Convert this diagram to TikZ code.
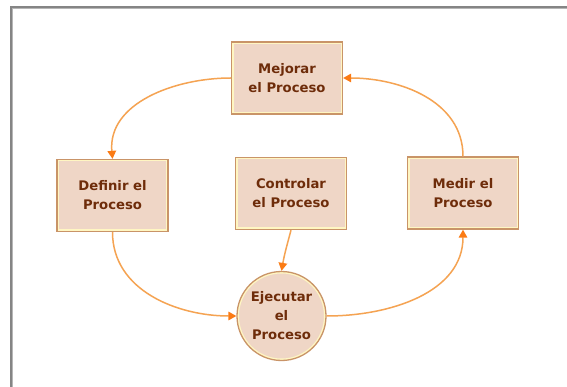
\documentclass[tikz,border=0pt]{standalone}
\usepackage{fontspec}
\setmainfont{DejaVu Sans}
\usetikzlibrary{arrows.meta}
\definecolor{boxfill}{HTML}{EFD6C6}
\definecolor{boxline}{HTML}{C99468}
\definecolor{cream}{HTML}{FFF6C2}
\definecolor{textbrown}{HTML}{6E2C0A}
\definecolor{flow}{HTML}{F5A352}
\definecolor{tip}{HTML}{FB7B14}
\definecolor{framegray}{HTML}{858585}
\tikzset{
  stage/.style={rectangle, fill=boxfill, draw=boxline, line width=1.3pt,
    minimum width=111pt, minimum height=72pt, inner sep=0pt,
    align=center, text=textbrown,
    font=\fontsize{13.2}{19}\selectfont\bfseries,
    path picture={\draw[cream, line width=4pt]
      (path picture bounding box.south west) rectangle
      (path picture bounding box.north east);}},
  hub/.style={circle, fill=boxfill, draw=boxline, line width=1.3pt,
    minimum size=89pt, inner sep=0pt,
    align=center, text=textbrown,
    font=\fontsize{13.2}{19}\selectfont\bfseries,
    path picture={\draw[cream, line width=4pt]
      (path picture bounding box.center) circle[radius=44.5pt];}},
  flowline/.style={draw=flow, line width=1.5pt,
    -{Triangle[length=8pt,width=8.5pt,color=tip]}},
}
\begin{document}
\begin{tikzpicture}[x=1pt,y=-1pt]
  \useasboundingbox (0,0) rectangle (567,387);
  \fill[white] (0,0) rectangle (567,387);
  % window frame
  \draw[framegray!60, line width=1pt] (12.5,387) -- (12.5,8.5) -- (567,8.5);
  \draw[framegray, line width=2pt] (11,387) -- (11,7) -- (567,7);

  % stages
  \node[stage] (mejorar)   at (287,78)      {Mejorar\\el Proceso};
  \node[stage] (definir)   at (112.5,195.5) {Definir el\\Proceso};
  \node[stage] (controlar) at (291,193.5)   {Controlar\\el Proceso};
  \node[stage] (medir)     at (463,193)     {Medir el\\Proceso};
  \node[hub]   (ejecutar)  at (281.5,316)   {Ejecutar\\el\\Proceso};

  % cycle
  \draw[flowline] (mejorar.west) to[out=180,in=95] (definir.north);
  \draw[flowline] (definir.south) to[out=-90,in=180] (ejecutar.west);
  \draw[flowline] (ejecutar.east) to[out=0,in=-90] (medir.south);
  \draw[flowline] (medir.north) to[out=90,in=0] (mejorar.east);
  \draw[flowline] (controlar.south) to[out=-105,in=80] (ejecutar.north);
\end{tikzpicture}
\end{document}
